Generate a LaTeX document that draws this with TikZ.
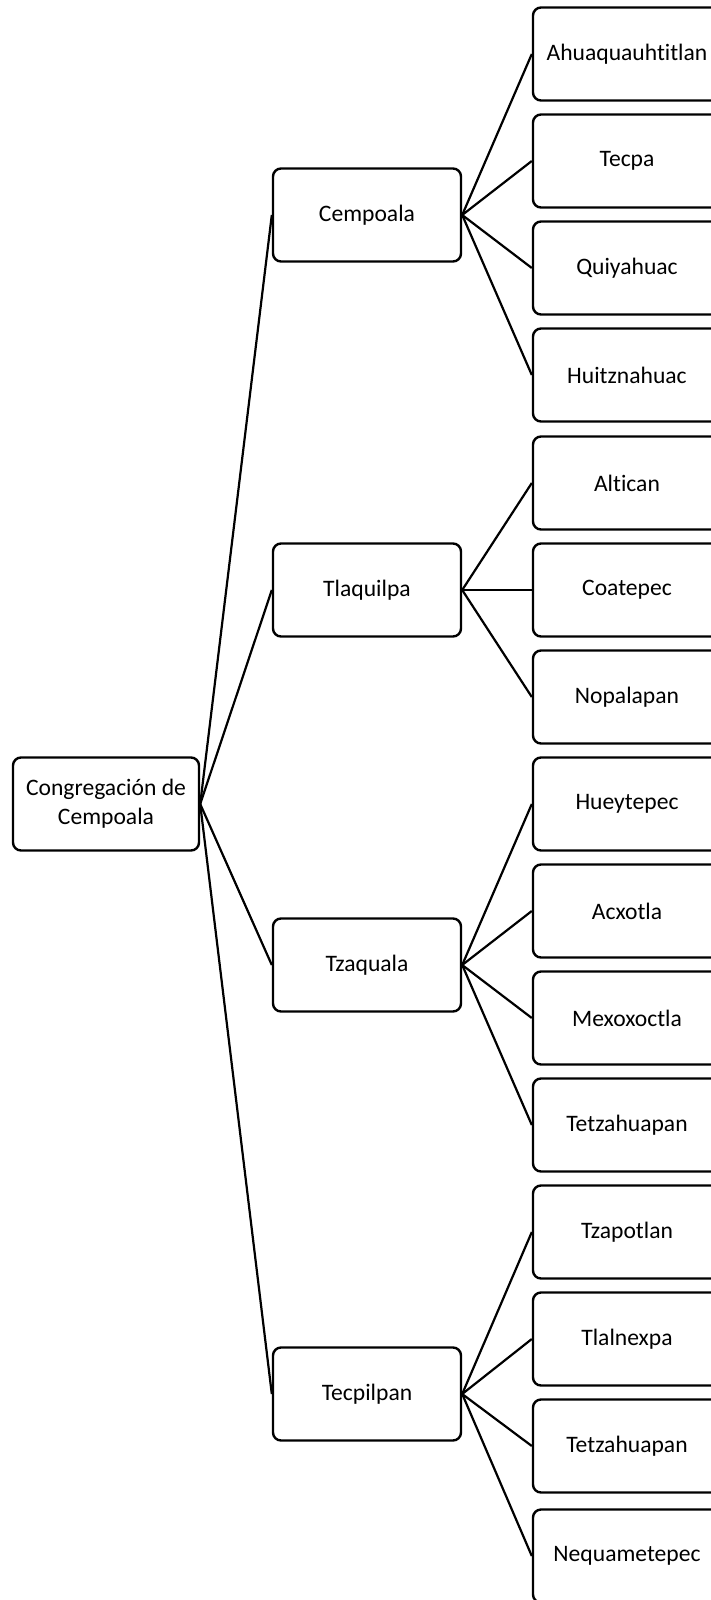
\documentclass[tikz,border=0pt]{standalone}
\usepackage{fontspec}
\setmainfont{Carlito}[Ligatures=NoCommon]
\tikzset{
	box/.style = {rectangle, rounded corners=4pt, draw, line width=1.2pt, fill=white, align=center, minimum width=94pt, minimum height=46.5pt, inner sep=2pt},
}
\begin{document}
\begin{tikzpicture}[x=0.5pt, y=-0.5pt, line width=1.1pt, font=\fontsize{11.8}{14.4}\selectfont]
	\clip (0,0) rectangle (711,1600);
	\fill[white] (0,0) rectangle (711,1600);
	\node (C)  at (106,  804)	[box, minimum width=93pt]	{Congregación de\\Cempoala};
	\node (M1) at (367,  215)	[box]	{Cempoala};
	\node (M2) at (367,  590)	[box]	{Tlaquilpa};
	\node (M3) at (367,  965)	[box]	{Tzaquala};
	\node (M4) at (367, 1394)	[box]	{Tecpilpan};
	\node (L1)  at (627,   54)	[box]	{Ahuaquauhtitlan};
	\node (L2)  at (627,  161)	[box]	{Tecpa};
	\node (L3)  at (627,  268)	[box]	{Quiyahuac};
	\node (L4)  at (627,  375)	[box]	{Huitznahuac};
	\node (L5)  at (627,  483)	[box]	{Altican};
	\node (L6)  at (627,  590)	[box]	{Coatepec};
	\node (L7)  at (627,  697)	[box]	{Nopalapan};
	\node (L8)  at (627,  804)	[box]	{Hueytepec};
	\node (L9)  at (627,  911)	[box]	{Acxotla};
	\node (L10) at (627, 1018)	[box]	{Mexoxoctla};
	\node (L11) at (627, 1125)	[box]	{Tetzahuapan};
	\node (L12) at (627, 1232)	[box]	{Tzapotlan};
	\node (L13) at (627, 1339)	[box]	{Tlalnexpa};
	\node (L14) at (627, 1446)	[box]	{Tetzahuapan};
	\node (L15) at (627, 1556)	[box]	{Nequametepec};
	\draw (C.east) -- (M1.west);
	\draw (C.east) -- (M2.west);
	\draw (C.east) -- (M3.west);
	\draw (C.east) -- (M4.west);
	\draw (M1.east) -- (L1.west);
	\draw (M1.east) -- (L2.west);
	\draw (M1.east) -- (L3.west);
	\draw (M1.east) -- (L4.west);
	\draw (M2.east) -- (L5.west);
	\draw (M2.east) -- (L6.west);
	\draw (M2.east) -- (L7.west);
	\draw (M3.east) -- (L8.west);
	\draw (M3.east) -- (L9.west);
	\draw (M3.east) -- (L10.west);
	\draw (M3.east) -- (L11.west);
	\draw (M4.east) -- (L12.west);
	\draw (M4.east) -- (L13.west);
	\draw (M4.east) -- (L14.west);
	\draw (M4.east) -- (L15.west);
\end{tikzpicture}
\end{document}
